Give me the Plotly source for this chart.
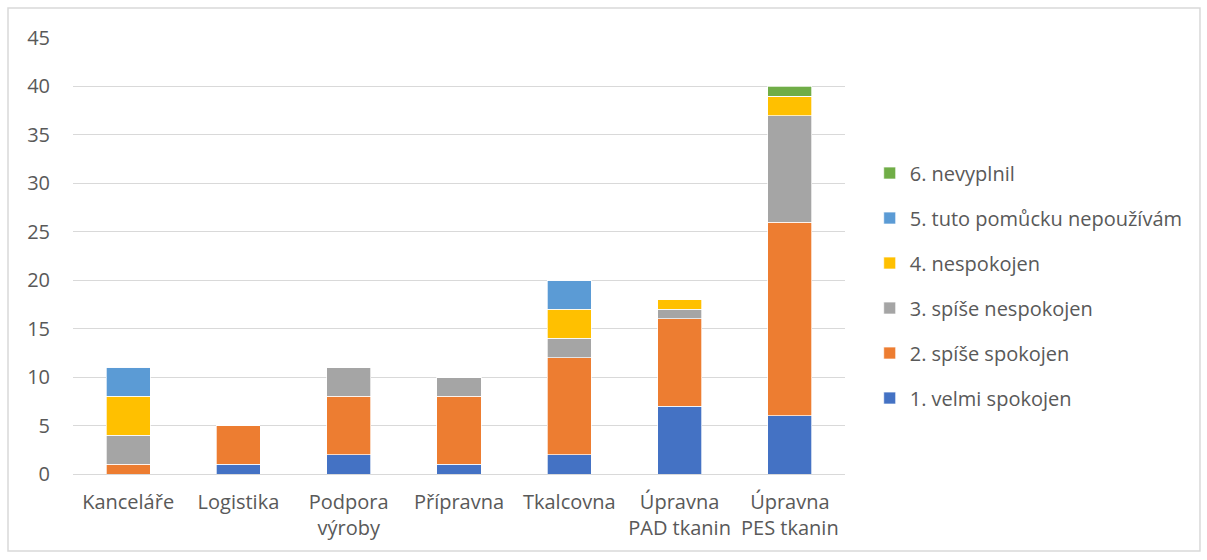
import plotly.graph_objects as go

categories = ["Kanceláře", "Logistika", "Podpora<br>výroby", "Přípravna", "Tkalcovna",
              "Úpravna<br>PAD tkanin", "Úpravna<br>PES tkanin"]
velmi_spokojen = [0, 1, 2, 1, 2, 7, 6]
spise_spokojen = [1, 4, 6, 7, 10, 9, 20]
spise_nespokojen = [3, 0, 3, 2, 2, 1, 11]
nespokojen = [4, 0, 0, 0, 3, 1, 2]
nepouzivam = [3, 0, 0, 0, 3, 0, 0]
nevyplnil = [0, 0, 0, 0, 0, 0, 1]

series = [
    ("1. velmi spokojen", velmi_spokojen, "#4472C4"),
    ("2. spíše spokojen", spise_spokojen, "#ED7D31"),
    ("3. spíše nespokojen", spise_nespokojen, "#A5A5A5"),
    ("4. nespokojen", nespokojen, "#FFC000"),
    ("5. tuto pomůcku nepoužívám", nepouzivam, "#5B9BD5"),
    ("6. nevyplnil", nevyplnil, "#70AD47"),
]

fig = go.Figure()
for i, (name, vals, color) in enumerate(series):
    fig.add_trace(go.Bar(
        x=categories, y=vals, name=name, legendgroup=str(i),
        legendrank=100 - i,
        marker=dict(color=color, line=dict(color="white", width=0.7)),
    ))

font = "Open Sans, Liberation Sans, sans-serif"
fig.update_layout(
    barmode="stack",
    bargap=0.6,
    width=1207, height=560,
    margin=dict(l=73, r=362, t=38, b=86),
    paper_bgcolor="white", plot_bgcolor="white",
    font=dict(family=font, size=20, color="#595959"),
    legend=dict(traceorder="grouped", tracegroupgap=16,
                x=1.032, xanchor="left", y=0.735, yanchor="top",
                font=dict(size=20, color="#595959"),
                itemwidth=30),
    shapes=[dict(type="rect", xref="paper", yref="paper",
                 x0=-0.0842, x1=1.4598, y0=-0.1766, y1=1.069,
                 line=dict(color="#D9D9D9", width=1.5))],
)
fig.update_yaxes(range=[0, 45], dtick=5, showgrid=True, gridcolor="#D9D9D9",
                 gridwidth=1, zeroline=False, showline=False,
                 ticklabelstandoff=22, tickfont=dict(size=20, color="#595959"))
fig.update_xaxes(showline=True, linecolor="#D9D9D9", linewidth=1,
                 ticklabelstandoff=10,
                 tickfont=dict(size=20, color="#595959"))

fig.write_html("out.html", post_script="document.body.style.margin='0';",
               config={"displayModeBar": False})
